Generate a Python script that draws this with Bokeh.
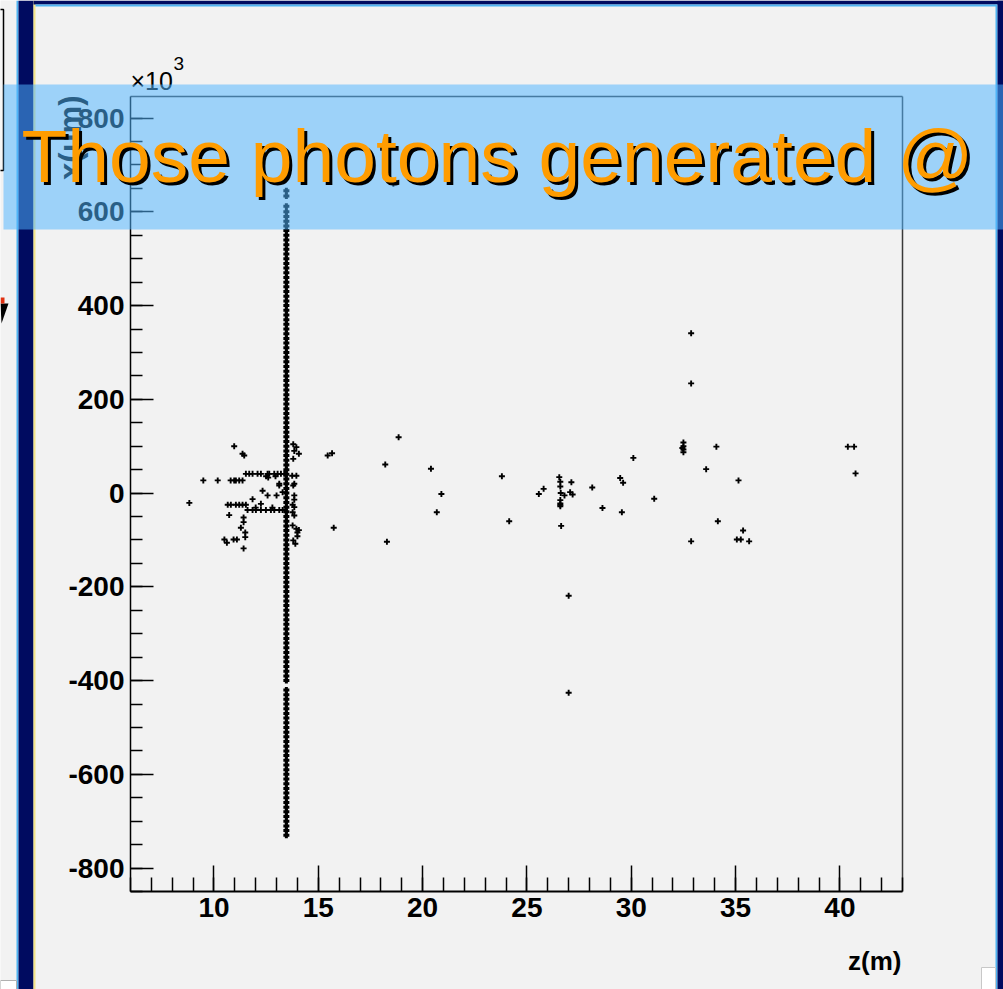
import math
from bokeh.plotting import figure
from bokeh.models import (Range1d, SingleIntervalTicker, BoxAnnotation, Label,
                          PolyAnnotation, PrintfTickFormatter)
from bokeh.embed import file_html
from bokeh.resources import INLINE

# ---------------- data (z in m, x in um x10^3) ----------------
line_z = 13.47
line_y = [645, 634, 612, 600,
          590, 580, 570, 560, 550, 540, 530, 520, 510, 500,
          490, 480, 470, 460, 450, 440, 430, 420, 410, 400,
          390, 380, 370, 360, 350, 340, 330, 320, 310, 300,
          290, 280, 270, 260, 250, 240, 230, 220, 210, 200,
          190, 180, 170, 160, 150, 140, 130, 120, 110, 100,
          90, 80, 70, 60, 50, 40, 30, 20, 10, 0,
          -10, -20, -30, -40, -50, -60, -70, -80, -90, -100,
          -110, -120, -130, -140, -150, -160, -170, -180, -190, -200,
          -210, -220, -230, -240, -250, -260, -270, -280, -290, -300,
          -310, -320, -330, -340, -350, -360, -370, -380, -390, -400,
          -420, -430, -440, -450, -460, -470, -480, -490, -500,
          -510, -520, -530, -540, -550, -560, -570, -580, -590, -600,
          -610, -620, -630, -640, -650, -660, -670, -680, -690, -700,
          -710, -720, -730]

left_z = [10.97, 11.37, 11.45,
          11.53, 11.69, 11.85, 12.09, 12.25, 12.57, 12.65, 12.89, 13.05, 13.21, 13.37,
          12.5, 12.6, 12.95,
          9.49, 10.18, 10.8, 10.97, 11.05, 11.21, 11.37,
          13.13, 12.33, 12.57, 13.0, 13.13, 13.29, 11.85, 12.25, 8.82,
          10.66, 10.81, 11.05, 11.21, 11.37, 11.53,
          11.61, 11.85, 12.01, 12.25, 12.49, 12.73, 12.89, 13.13, 13.29,
          12.0, 12.8,
          10.73, 11.42, 11.42, 11.29, 11.5, 11.5, 10.5, 10.62, 10.94, 11.1, 11.42]
left_y = [100, 84, 80,
          41, 41, 41, 41, 41, 41, 41, 41, 41, 41, 41,
          36, 33, 36,
          27, 27, 27, 27, 27, 27, 27,
          20, 5, -5, -5, 16, 2, -13, -23, -21,
          -25, -25, -25, -25, -25, -25,
          -36, -36, -36, -36, -36, -36, -36, -36, -36,
          -31, -31,
          -47, -52, -62, -74, -84, -94, -99, -106, -99, -99, -118]

right_z = [13.8, 13.95, 14.07, 13.85, 13.8, 13.95, 13.75, 13.85, 13.8, 13.85, 13.85,
           13.77, 13.85, 13.77, 13.85, 13.77, 13.95, 14.07, 14.0, 14.0, 13.8, 13.9]
right_y = [104, 98, 84, 90, 73, 37, 37, 20, 16, -5, -14,
           -25, -30, -41, -48, -69, -76, -79, -84, -92, -101, -108]

far_z = [15.45, 15.66, 15.74, 18.85, 18.21, 18.29, 18.6, 20.40, 20.9, 20.68, 23.8, 24.15,
         25.57, 25.8,
         26.55, 26.6, 26.6, 26.62, 26.8, 26.6, 26.6, 26.6, 26.6,
         26.64, 27.13, 27.07, 27.19, 28.13, 27.0, 27.0,
         28.62, 29.55, 29.47, 29.61, 30.1, 31.1,
         32.87, 32.87, 32.5, 32.5, 32.45, 32.5, 32.5, 34.08, 33.59, 35.14,
         32.87, 34.15, 35.36, 35.06, 35.25, 35.65,
         40.38, 40.68, 40.75]
far_y = [80, 85, -74, 119, 61, -104, 660, 52, -2, -41, 36, -60,
         -2, 9,
         34, 24, 14, 0, -5, -15, -22, -25, -28,
         -70, 23, 2, -3, 12, -219, -426,
         -32, -41, 32, 22, 75, -12,
         341, 234, 108, 100, 96, 93, 87, 99, 51, 27,
         -103, -60, -80, -99, -99, -103,
         99, 99, 42]

z_limits = (6, 43)          # axis extent of z(m)
x_limits = (-850, 846)      # axis extent of x(um) x10^3
x_ticks_interval = 5
y_ticks_interval = 200
title_text = "Those photons generated @"

# ---------------- layout (pixels) ----------------
W, H = 1003, 989
FR_L, FR_R, FR_T, FR_B = 130, 902, 96, 891   # plot-frame position inside the slide

sx = (FR_R - FR_L) / (z_limits[1] - z_limits[0])
sy = (FR_B - FR_T) / (x_limits[1] - x_limits[0])
xr = Range1d(z_limits[0] - FR_L / sx, z_limits[1] + (W - FR_R) / sx)
yr = Range1d(x_limits[0] - (H - FR_B) / sy, x_limits[1] + FR_T / sy)

p = figure(width=W, height=H, x_range=xr, y_range=yr,
           output_backend="svg", toolbar_location=None,
           min_border=0, min_border_left=0, min_border_right=0,
           min_border_top=0, min_border_bottom=0)
p.title.visible = False
p.border_fill_color = "#f2f2f2"
p.background_fill_color = "#f2f2f2"
p.outline_line_color = None
p.xgrid.visible = False
p.ygrid.visible = False

FONT = "Liberation Sans"

p.xaxis.ticker = SingleIntervalTicker(interval=x_ticks_interval, num_minor_ticks=5)
p.yaxis.ticker = SingleIntervalTicker(interval=y_ticks_interval, num_minor_ticks=4)
p.xaxis.fixed_location = x_limits[0]
p.yaxis.fixed_location = z_limits[0]
p.xaxis.bounds = z_limits
p.yaxis.bounds = x_limits
for ax, tin, tmin, lw in ((p.xaxis, 26, 14, 2.2), (p.yaxis, 23, 12, 1.5)):
    ax.major_tick_in = tin
    ax.major_tick_out = 0
    ax.minor_tick_in = tmin
    ax.minor_tick_out = 0
    ax.axis_line_color = "black"
    ax.axis_line_width = lw
    ax.major_tick_line_color = "black"
    ax.minor_tick_line_color = "black"
    ax.major_tick_line_width = 1.5
    ax.minor_tick_line_width = 1.5
    ax.major_label_text_font = FONT
    ax.major_label_text_font_style = "bold"
    ax.major_label_text_font_size = "28px"
    ax.major_label_text_color = "black"
    ax.formatter = PrintfTickFormatter(format="%d")
p.xaxis.major_label_standoff = 6
p.yaxis.major_label_standoff = 6

# frame top / right edges
p.segment(x0=[z_limits[0], z_limits[1]], y0=[x_limits[1], x_limits[1]],
          x1=[z_limits[1], z_limits[1]], y1=[x_limits[1], x_limits[0]],
          line_color="#3a3a3a", line_width=1.5)

# ---------------- data marks ----------------
mk = dict(marker="cross", size=6, line_color="black", line_width=1.9)
p.scatter(x=line_z, y=line_y, marker="cross", size=6, line_color="black", line_width=3)
p.scatter(x=left_z, y=left_y, **mk)
p.scatter(x=right_z, y=right_y, **mk)
p.scatter(x=far_z, y=far_y, **mk)

C = dict(x_units="canvas", y_units="canvas")

# ---------------- axis texts ----------------
p.add_layout(Label(x=130, y=80, text="\u00d710", text_baseline="alphabetic",
                   text_font=FONT, text_font_size="25px", text_color="black", **C))
p.add_layout(Label(x=173, y=63, text="3", text_baseline="alphabetic",
                   text_font=FONT, text_font_size="19px", text_color="black", **C))
p.add_layout(Label(x=70, y=95, text="x(\u03bcm)", angle=math.pi / 2,
                   text_align="right", text_baseline="middle",
                   text_font=FONT, text_font_style="bold", text_font_size="31px",
                   text_color="black", **C))
p.add_layout(Label(x=901, y=960, text="z(m)", text_align="right", text_baseline="alphabetic",
                   text_font=FONT, text_font_style="bold", text_font_size="26px",
                   text_color="black", **C))


# ---------------- slide decorations ----------------
def box(l, r, t, b, color, alpha=1.0, level="annotation", line=None, lw=1):
    p.add_layout(BoxAnnotation(left=l, right=r, top=t, bottom=b,
                               left_units="canvas", right_units="canvas",
                               top_units="canvas", bottom_units="canvas",
                               fill_color=color, fill_alpha=alpha,
                               line_color=line, line_width=lw,
                               line_alpha=1.0 if line else 0,
                               level=level))


box(16, 18, 0, H, "#4fb3f2")
box(18, 33, 0, H, "#000b60")
box(33, 35, 0, H, "#f3e488")
box(33, W, 0, 4, "#000b60")
box(35, 996, 4, 6, "#4fb3f2")
box(995, 997, 4, H, "#4fb3f2")
box(997, W, 0, H, "#000b60")
box(-5, 3, 9, 170, "#f6f6f6", line="black", lw=1.5)
box(0, 16, 980, H + 5, "#ffffff", line="#b0b0b0")
box(981, 995, 967, H + 5, "#ffffff", line="#c8c8c8")
p.add_layout(PolyAnnotation(xs=[0, 8, 1], ys=[303, 303, 323],
                            xs_units="canvas", ys_units="canvas",
                            fill_color="black", fill_alpha=1, line_color=None))
p.add_layout(PolyAnnotation(xs=[0, 4, 4, 0], ys=[297, 297, 303, 303],
                            xs_units="canvas", ys_units="canvas",
                            fill_color="#e03010", fill_alpha=1, line_color=None))

box(3, W, 84, 229, "#50b5ff", alpha=0.525, level="overlay")

p.add_layout(Label(x=21 + 3, y=155 + 3, text=title_text, text_baseline="alphabetic",
                   text_font=FONT, text_font_size="75px", text_color="black",
                   level="overlay", **C))
p.add_layout(Label(x=21, y=155, text=title_text, text_baseline="alphabetic",
                   text_font=FONT, text_font_size="75px", text_color="#ff9c00",
                   level="overlay", **C))

open("out.html", "w").write(file_html(p, INLINE))
